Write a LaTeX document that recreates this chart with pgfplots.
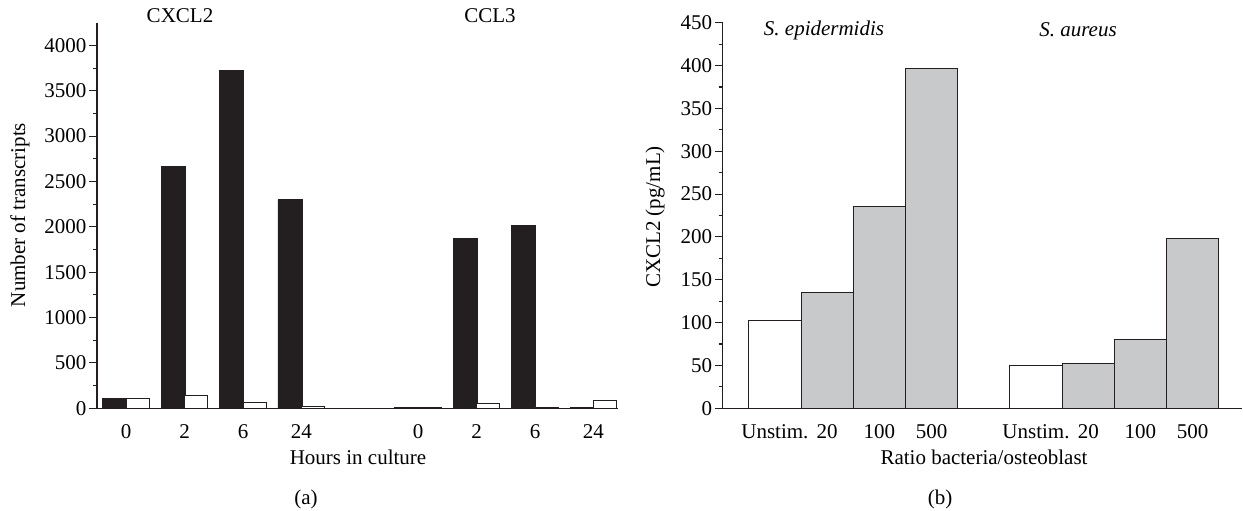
\documentclass[border=0pt]{standalone}
\usepackage{fontspec}
\setmainfont{Liberation Serif}
\usepackage{pgfplots}
\pgfplotsset{compat=1.18}
\definecolor{barblack}{HTML}{231F20}
\definecolor{bargray}{HTML}{C8C9CB}
\begin{document}
\begin{tikzpicture}[font=\fontsize{21}{25}\selectfont, x=1pt, y=1pt]
\pgfplotsset{
  myaxis/.style={
    scale only axis,
    axis lines*=left,
    axis line style={barblack, line width=1.3pt},
    tick align=outside,
    major tick length=8pt,
    minor tick length=4pt,
    every tick/.style={barblack, line width=1.1pt},
    xtick style={draw=none},
    ymin=0,
    scaled y ticks=false,
    /pgf/number format/1000 sep={},
    /pgf/number format/assume math mode=true,
    xticklabel style={yshift=-5pt},
    yticklabel style={xshift=1pt},
    clip=false,
  }
}
% ---------- panel (a)
\begin{axis}[myaxis,
  at={(97pt,102.7pt)}, anchor=south west,
  width=521pt, height=385.6pt,
  xmin=-0.5, xmax=8.42, ymax=4250,
  ytick={0,500,...,4000}, minor y tick num=1,
  xtick={0,1,2,3,5,6,7,8},
  xticklabels={0,2,6,24,0,2,6,24},
]
\addplot[ybar, bar width=24pt, bar shift=-11.5pt, fill=barblack, draw=barblack, line width=0.8pt]
  coordinates {(0,112) (1,2665) (2,3728) (3,2300) (5,12) (6,1873) (7,2013) (8,6)};
\addplot[ybar, bar width=23pt, bar shift=11.5pt, fill=white, draw=barblack, line width=0.8pt]
  coordinates {(0,112) (1,145) (2,60) (3,25) (5,8) (6,58) (7,15) (8,88)};
\end{axis}
% ---------- panel (b)
\begin{axis}[myaxis,
  at={(722.7pt,102.7pt)}, anchor=south west,
  width=519.6pt, height=385.6pt,
  xmin=-1, xmax=8.95, ymax=450,
  ytick={0,50,...,450}, minor y tick num=1,
  xtick={0,1,2,3,5,6,7,8},
  xticklabels={Unstim.,20,100,500,Unstim.,20,100,500},
]
\addplot[ybar, bar width=52.2pt, fill=white, draw=barblack, line width=0.9pt]
  coordinates {(0,102) (5,50)};
\addplot[ybar, bar width=52.2pt, fill=bargray, draw=barblack, line width=0.9pt]
  coordinates {(1,135) (2,236) (3,397) (6,52.5) (7,80) (8,198)};
\end{axis}
% ---------- texts
\node at (180pt,495pt) {CXCL2};
\node at (490pt,495pt) {CCL3};
\node[rotate=90] at (20pt,296pt) {Number of transcripts};
\node at (358pt,54pt) {Hours in culture};
\node at (306pt,12pt) {(a)};
\node at (824pt,481pt) {\itshape S. epidermidis};
\node at (1078pt,481pt) {\itshape S. aureus};
\node[rotate=90] at (655pt,294pt) {CXCL2 (pg/mL)};
\node at (984pt,54pt) {Ratio bacteria/osteoblast};
\node at (940pt,12pt) {(b)};
\pgfresetboundingbox
\path[use as bounding box] (0,0) rectangle (1243pt,511pt);
\end{tikzpicture}
\end{document}
